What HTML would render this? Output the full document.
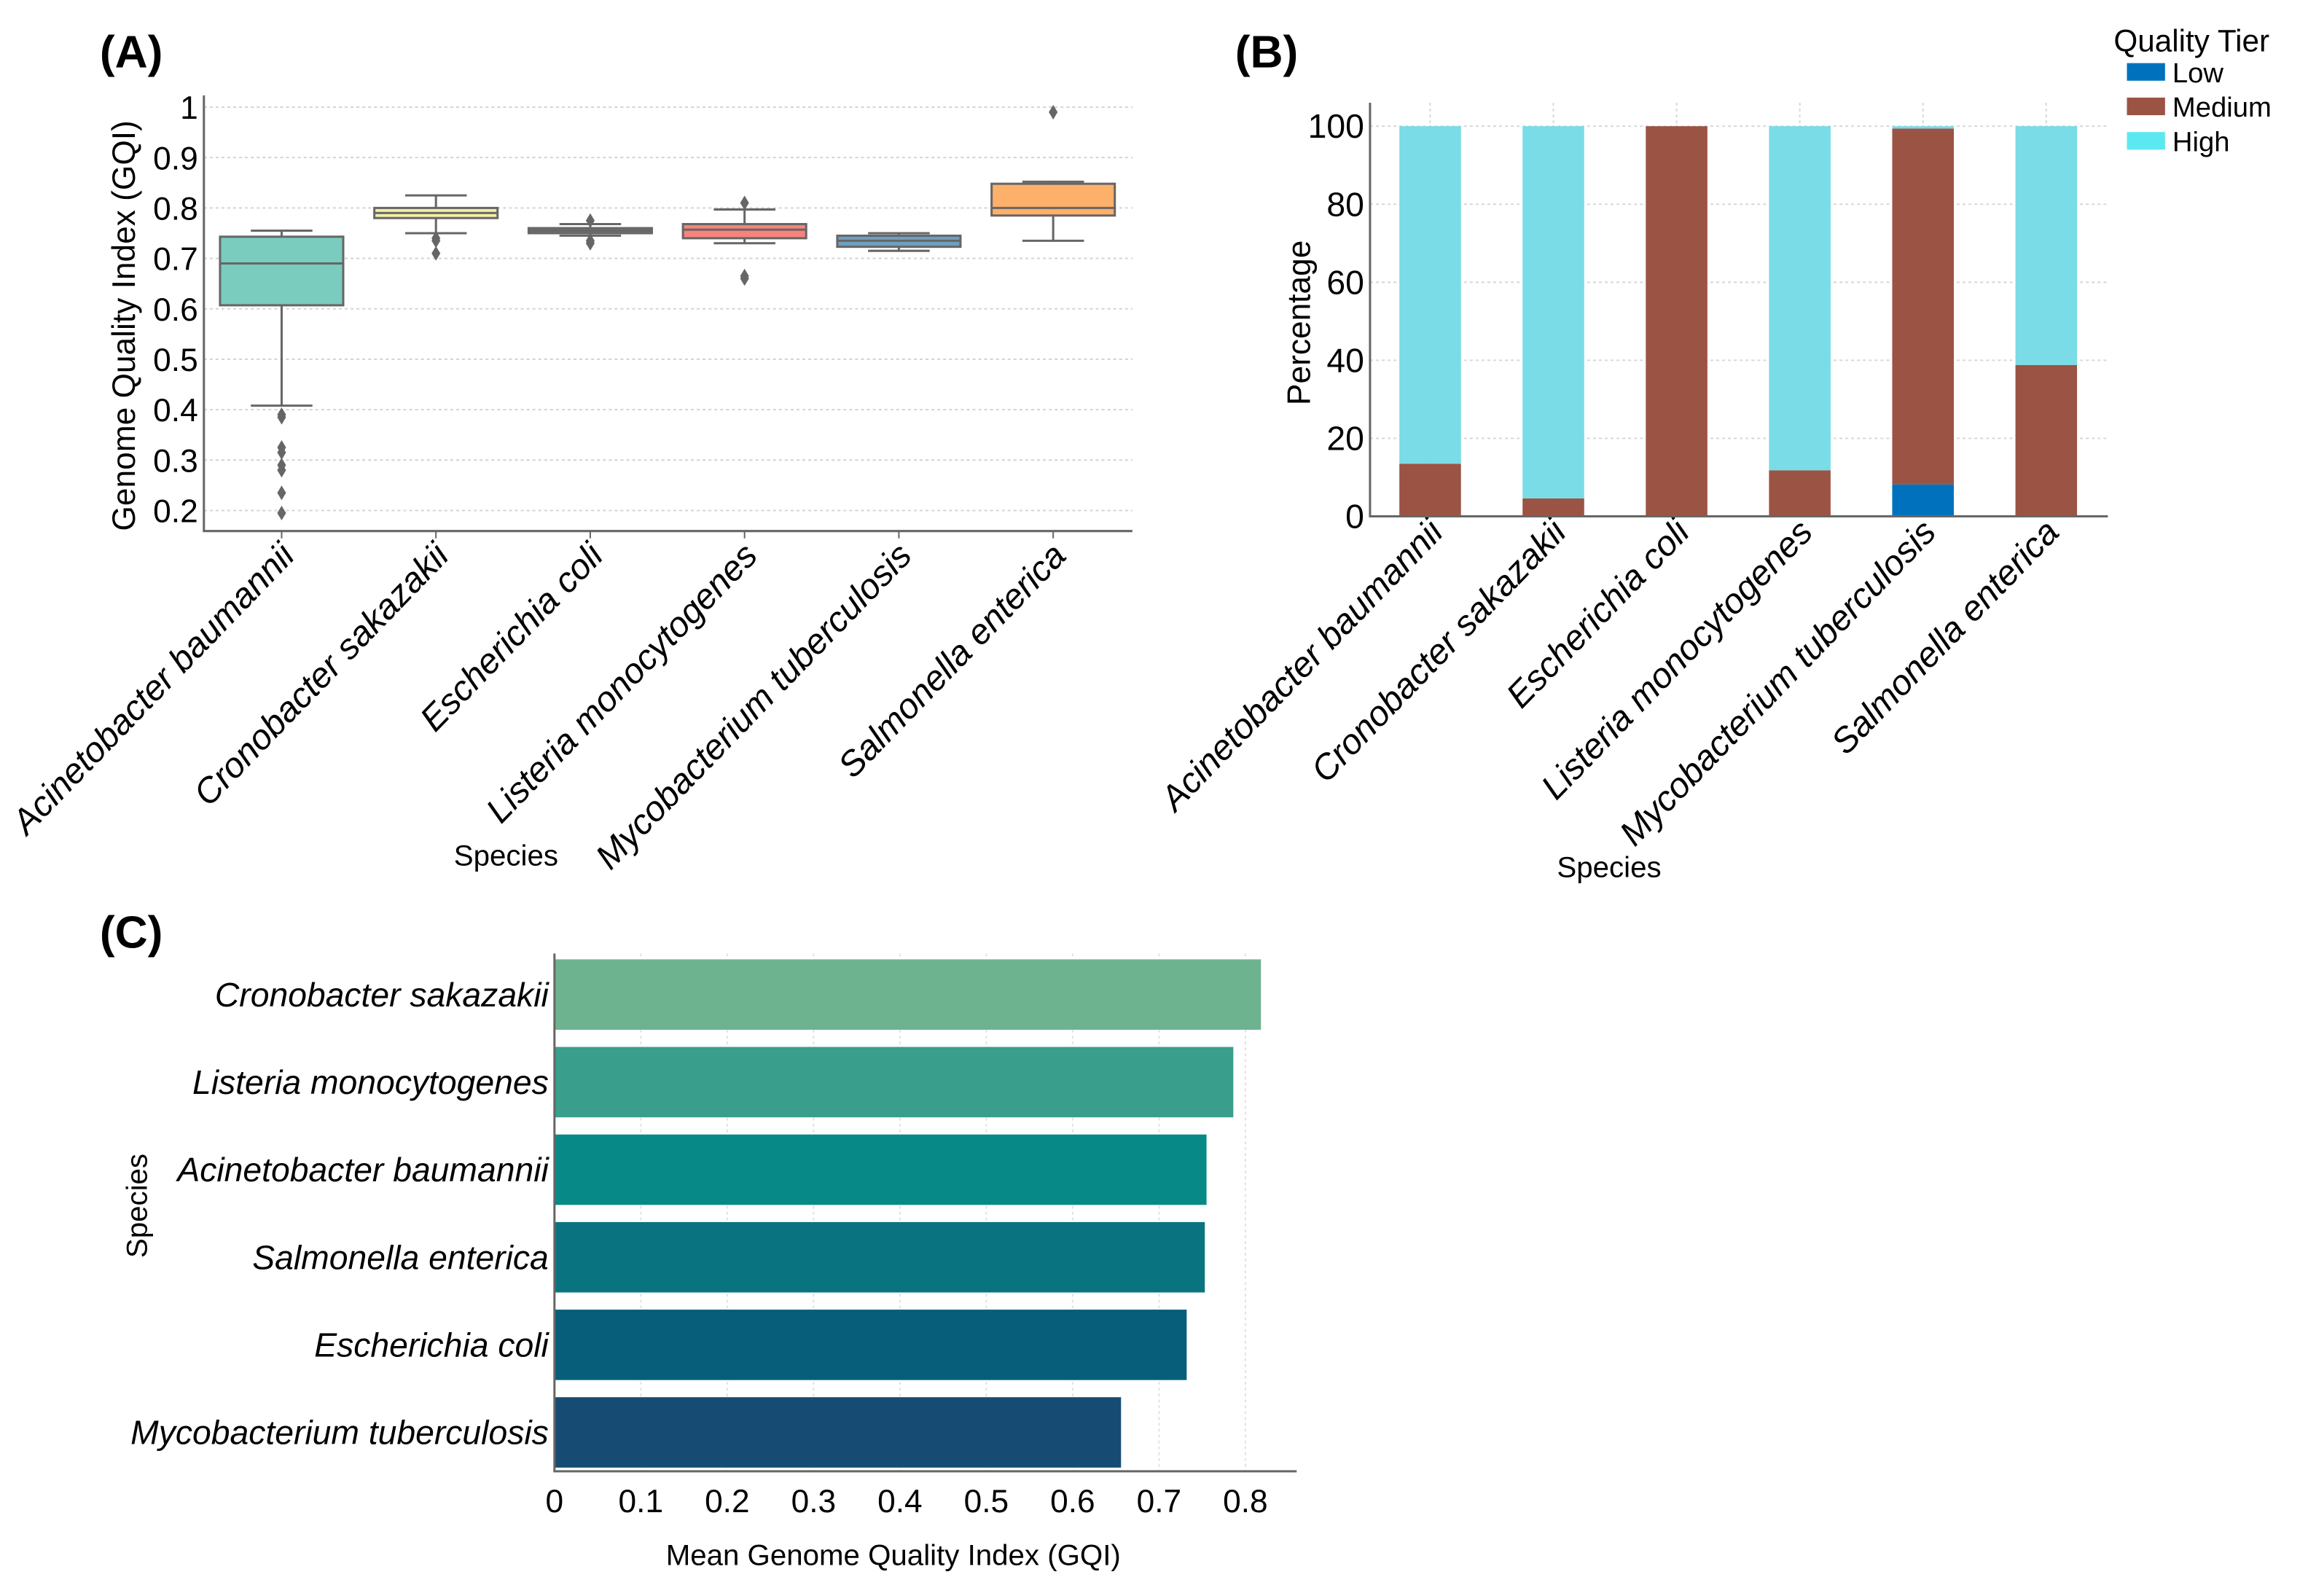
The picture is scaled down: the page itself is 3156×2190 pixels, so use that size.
<!DOCTYPE html>
<html><head><meta charset="utf-8"><style>
html,body{margin:0;padding:0;background:#fff;}
svg{display:block;font-family:"Liberation Sans",sans-serif;}
</style></head><body>
<svg id="fig" width="3156" height="2190" viewBox="0 0 1568 1088" xmlns="http://www.w3.org/2000/svg">
<rect width="1568" height="1088" fill="#fff"/>
<text x="68" y="46" font-size="31" font-weight="bold">(A)</text>
<text x="842" y="46" font-size="31" font-weight="bold">(B)</text>
<text x="68" y="646" font-size="31" font-weight="bold">(C)</text>
<g id="A"></g><g id="B"></g><g id="C"></g>
</svg>
<script>
const NS="http://www.w3.org/2000/svg";
function mk(parent,tag,attrs,text){const e=document.createElementNS(NS,tag);for(const k in attrs)e.setAttribute(k,attrs[k]);if(text!==undefined)e.textContent=text;parent.appendChild(e);return e;}

// ---------- Panel A data ----------
const speciesA=["Acinetobacter baumannii","Cronobacter sakazakii","Escherichia coli","Listeria monocytogenes","Mycobacterium tuberculosis","Salmonella enterica"];
const q1A=[0.607,0.780,0.750,0.740,0.723,0.785];
const medA=[0.690,0.790,0.755,0.757,0.735,0.800];
const q3A=[0.743,0.800,0.760,0.768,0.745,0.848];
const loA=[0.408,0.750,0.745,0.730,0.715,0.735];
const hiA=[0.755,0.825,0.768,0.797,0.750,0.852];
const outliersA=[[0.39,0.385,0.325,0.315,0.29,0.28,0.235,0.195],[0.74,0.735,0.71],[0.775,0.73,0.735],[0.81,0.66,0.665],[],[0.99]];
const colorsA=["#7accbe","#f3f0a8","#7d7d7d","#f7837b","#6f9fc0","#fdb06a"];
const ticksA=[0.2,0.3,0.4,0.5,0.6,0.7,0.8,0.9,1];
const tickLabelsA=["0.2","0.3","0.4","0.5","0.6","0.7","0.8","0.9","1"];

// ---------- Panel B data ----------
const speciesB=speciesA;
const lowB=[0,0,0,0,8.2,0];
const medB=[13.5,4.6,100,11.8,91.2,38.8];
const highB=[86.5,95.4,0,88.2,0.6,61.2];
const ticksB=[0,20,40,60,80,100];
const tickLabelsB=["0","20","40","60","80","100"];
const tierNames=["Low","Medium","High"];

// ---------- Panel C data ----------
const speciesC=["Cronobacter sakazakii","Listeria monocytogenes","Acinetobacter baumannii","Salmonella enterica","Escherichia coli","Mycobacterium tuberculosis"];
const meanC=[0.818,0.786,0.755,0.753,0.732,0.656];
const colorsC=["#6db38f","#3a9e8c","#078a87","#09747f","#065e7a","#164c74"];
const ticksC=[0,0.1,0.2,0.3,0.4,0.5,0.6,0.7,0.8];
const tickLabelsC=["0","0.1","0.2","0.3","0.4","0.5","0.6","0.7","0.8"];

// ===== Panel A =====
(function(){
 const g=document.getElementById('A');
 const L=139,R=772,B=362,T=65;
 const y=v=>348-(v-0.2)*343.75;
 const x=i=>192+i*105.2;
 ticksA.forEach((t,i)=>{
  const gl=mk(g,'line',{x1:L,x2:R,y1:y(t),y2:y(t),stroke:'#d4d4d4','stroke-dasharray':'2,2','stroke-width':1});
  
  const tl=mk(g,'text',{x:L-4,y:y(t)+8,'font-size':22,'text-anchor':'end'},tickLabelsA[i]);
  
 });
 const ax=mk(g,'path',{d:`M${L},${T} V${B} H${R}`,fill:'none',stroke:'#666','stroke-width':1.5});
 
 speciesA.forEach((s,i)=>{
  const cx=x(i),w=84;
  const grp=mk(g,'g',{});
  
  mk(grp,'line',{x1:cx,x2:cx,y1:y(loA[i]),y2:y(q1A[i]),stroke:'#666','stroke-width':1.5});
  mk(grp,'line',{x1:cx,x2:cx,y1:y(hiA[i]),y2:y(q3A[i]),stroke:'#666','stroke-width':1.5});
  mk(grp,'line',{x1:cx-21,x2:cx+21,y1:y(loA[i]),y2:y(loA[i]),stroke:'#666','stroke-width':1.5});
  mk(grp,'line',{x1:cx-21,x2:cx+21,y1:y(hiA[i]),y2:y(hiA[i]),stroke:'#666','stroke-width':1.5});
  mk(grp,'rect',{x:cx-w/2,y:y(q3A[i]),width:w,height:Math.max(1,y(q1A[i])-y(q3A[i])),fill:colorsA[i],stroke:'#666','stroke-width':1.5});
  mk(grp,'line',{x1:cx-w/2,x2:cx+w/2,y1:y(medA[i]),y2:y(medA[i]),stroke:'#666','stroke-width':1.5});
  outliersA[i].forEach(o=>{mk(grp,'path',{d:`M${cx},${y(o)-5} L${cx+3},${y(o)} L${cx},${y(o)+5} L${cx-3},${y(o)} Z`,fill:'#666'});});
  mk(g,'line',{x1:cx,x2:cx,y1:B,y2:B+5,stroke:'#666'});
  const lab=mk(g,'text',{x:0,y:0,'font-size':24,'font-style':'italic','text-anchor':'end',transform:`translate(${cx+10},${B+18}) rotate(-46)`},s);
  
 });
 const yt=mk(g,'text',{'font-size':22,'text-anchor':'middle',transform:'translate(92,222) rotate(-90)'},'Genome Quality Index (GQI)');
 
 const xt=mk(g,'text',{x:345,y:590,'font-size':20,'text-anchor':'middle'},'Species');
 
})();

// ===== Panel B =====
(function(){
 const g=document.getElementById('B');
 const L=934,R=1437,B=352,T=70;
 const y=v=>B-v*2.66;
 const x=i=>975+i*84;
 ticksB.forEach((t,i)=>{
  const gl=mk(g,'line',{x1:L,x2:R,y1:y(t),y2:y(t),stroke:'#d8d8d8','stroke-dasharray':'2,2'});
  
  const tl=mk(g,'text',{x:L-4,y:y(t)+8,'font-size':23,'text-anchor':'end'},tickLabelsB[i]);
  
 });
 speciesB.forEach((s,i)=>{
  const vg=mk(g,'line',{x1:x(i),x2:x(i),y1:T,y2:B,stroke:'#d8d8d8','stroke-dasharray':'2,2'});
  
 });
 const cols=["#0072bd","#9b5344","#79dce6"];
 const series=[lowB,medB,highB];
 speciesB.forEach((s,i)=>{
  let base=0;
  series.forEach((ser,k)=>{
   const v=ser[i];
   if(v>0){
    const r=mk(g,'rect',{x:x(i)-21,y:y(base+v),width:42,height:y(base)-y(base+v),fill:cols[k]});
    
   }
   base+=v;
  });
  const lab=mk(g,'text',{'font-size':24,'font-style':'italic','text-anchor':'end',transform:`translate(${x(i)+10},${B+12}) rotate(-46)`},s);
  
 });
 const ax=mk(g,'path',{d:`M${L},${T} V${B} H${R}`,fill:'none',stroke:'#666','stroke-width':1.5});
 
 const yt=mk(g,'text',{'font-size':22,'text-anchor':'middle',transform:'translate(893,220) rotate(-90)'},'Percentage');
 
 const xt=mk(g,'text',{x:1097,y:598,'font-size':20,'text-anchor':'middle'},'Species');
 
 const lg=mk(g,'g',{});
 mk(lg,'text',{x:1441,y:35,'font-size':21},'Quality Tier');
 tierNames.forEach((n,k)=>{
  const e=mk(lg,'g',{});
  mk(e,'rect',{x:1450,y:43+k*23.5,width:26,height:12,fill:k==2?'#5ce8f0':cols[k]});
  mk(e,'text',{x:1481,y:56+k*23.5,'font-size':19},n);
 });
})();

// ===== Panel C =====
(function(){
 const g=document.getElementById('C');
 const L=378,R=884,B=1003,T=650;
 const x=v=>L+v*588.8;
 const y=i=>678+i*59.7;
 ticksC.forEach((t,i)=>{
  const gl=mk(g,'line',{x1:x(t),x2:x(t),y1:T,y2:B,stroke:'#e2e2e2','stroke-dasharray':'2,2'});
  
  const tl=mk(g,'text',{x:x(t),y:B+28,'font-size':22,'text-anchor':'middle'},tickLabelsC[i]);
  
 });
 speciesC.forEach((s,i)=>{
  const r=mk(g,'rect',{x:L,y:y(i)-24,width:x(meanC[i])-L,height:48,fill:colorsC[i]});
  
  const lab=mk(g,'text',{x:L-4,y:y(i)+8,'font-size':23,'font-style':'italic','text-anchor':'end'},s);
  
 });
 const ax=mk(g,'path',{d:`M${L},${T} V${B} H${R}`,fill:'none',stroke:'#666','stroke-width':1.5});
 
 const yt=mk(g,'text',{'font-size':20,'text-anchor':'middle',transform:'translate(100,822) rotate(-90)'},'Species');
 
 const xt=mk(g,'text',{x:609,y:1067,'font-size':20,'text-anchor':'middle'},'Mean Genome Quality Index (GQI)');
 
})();
</script>
</body></html>
